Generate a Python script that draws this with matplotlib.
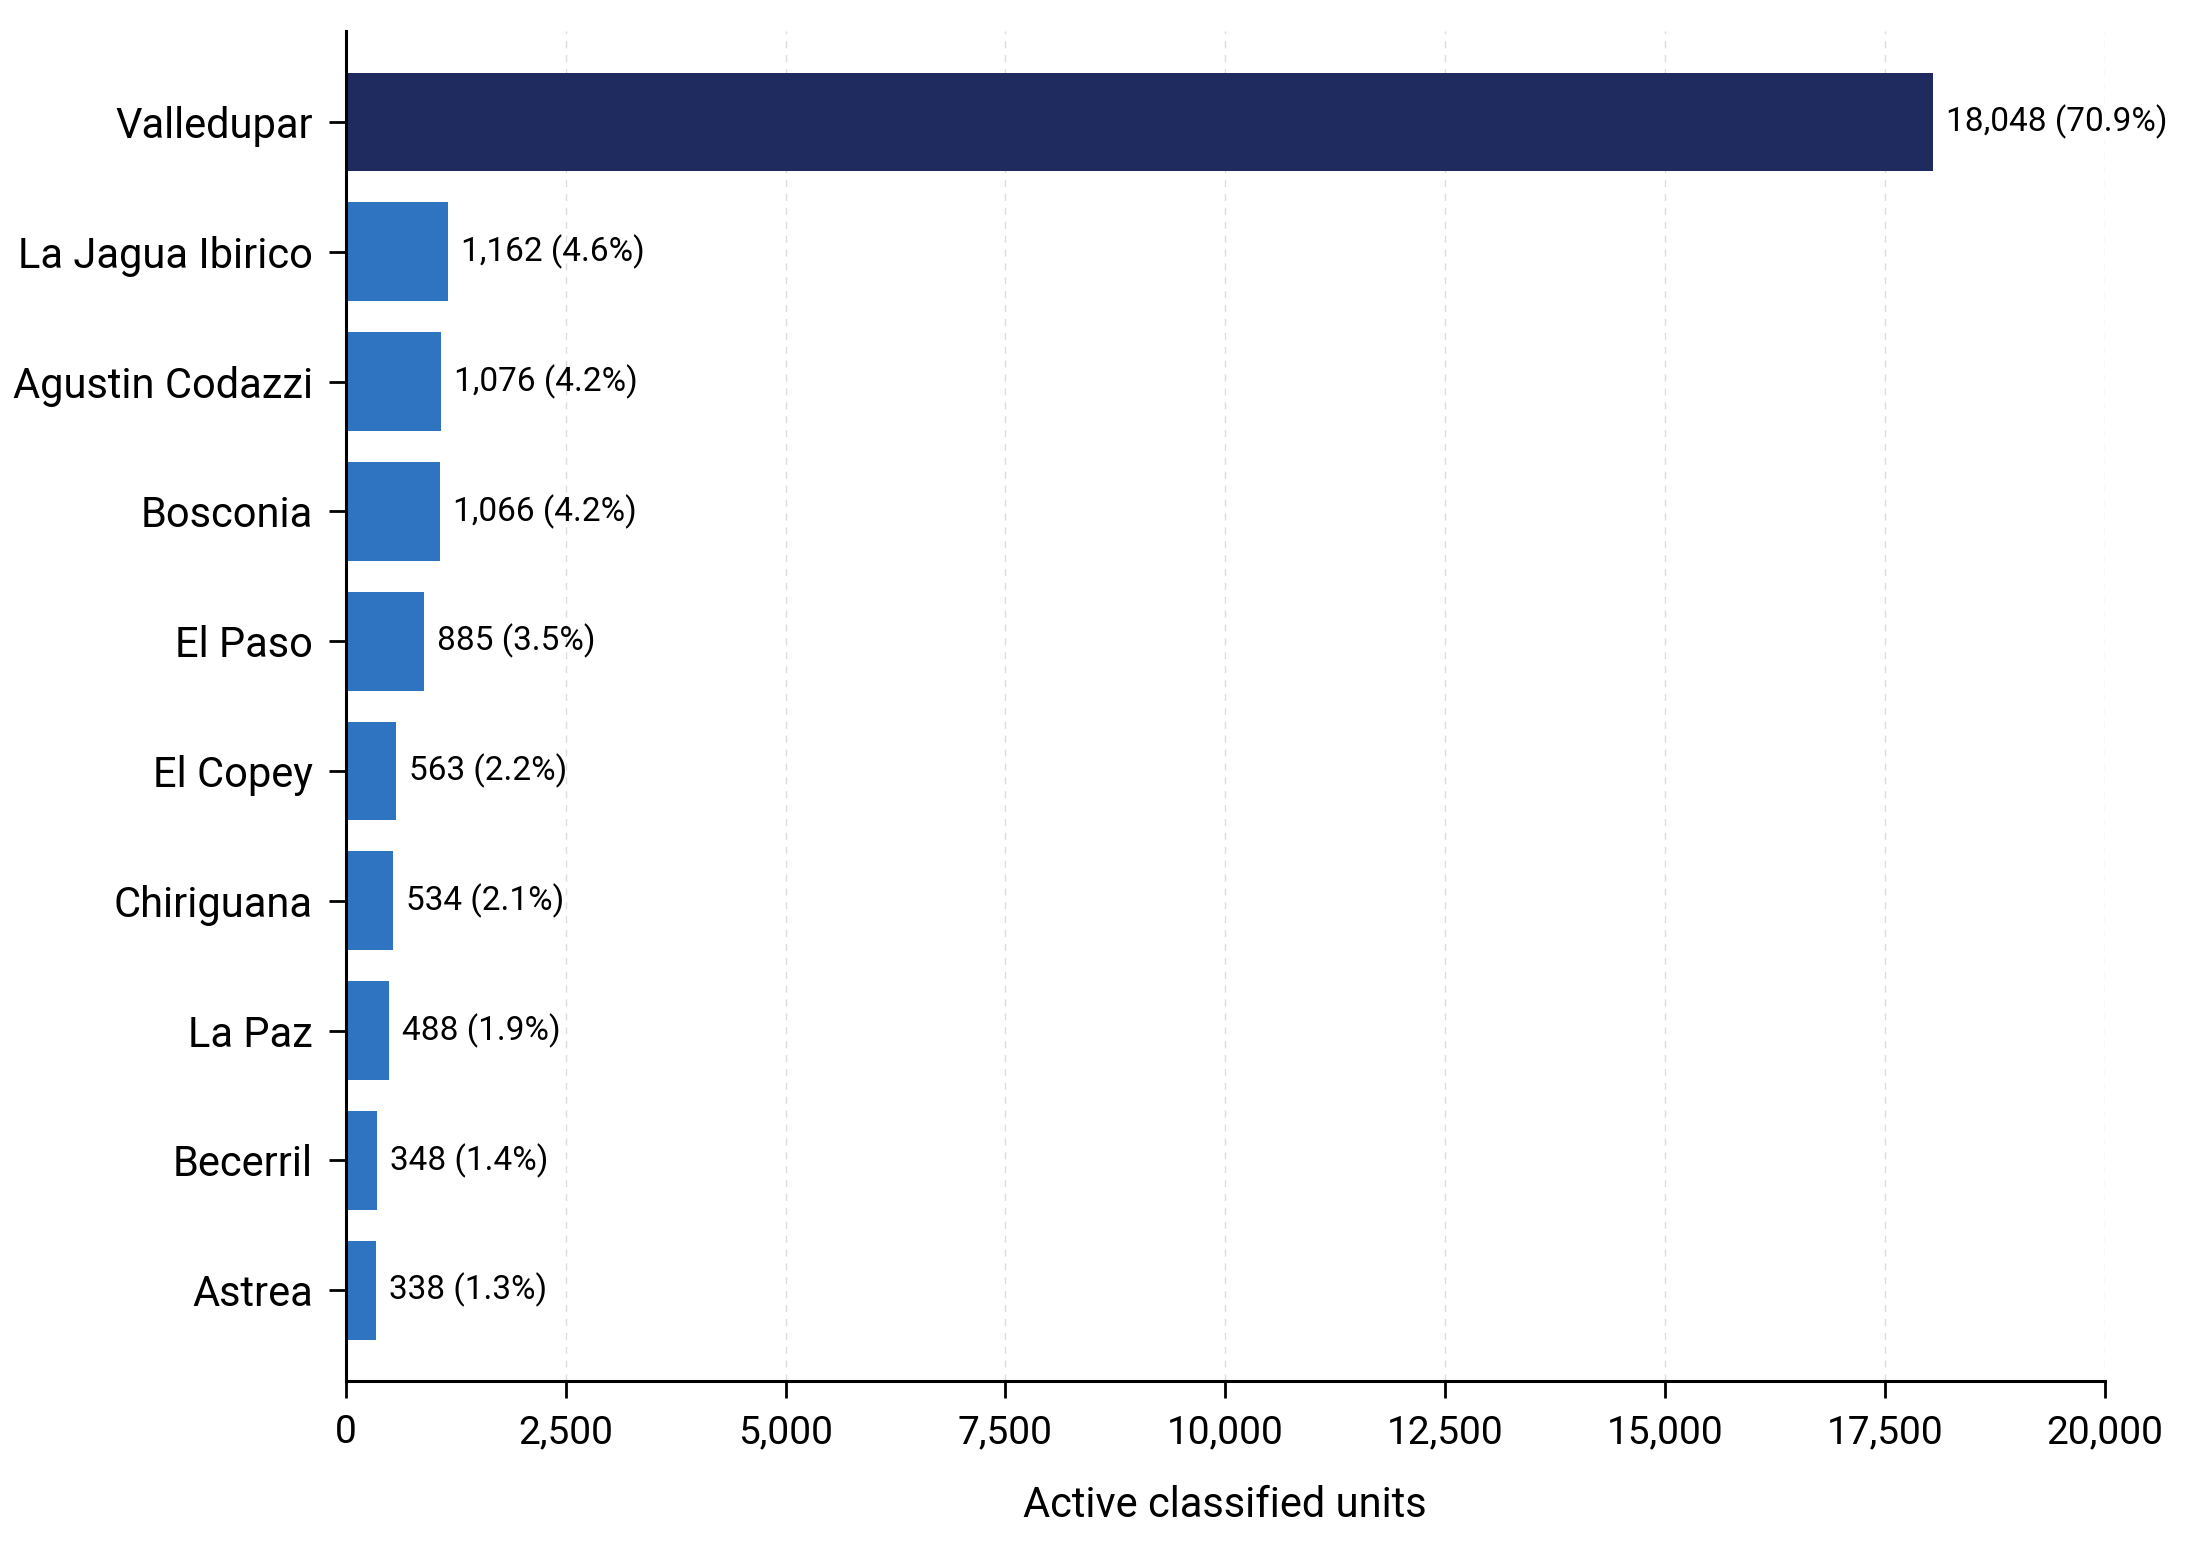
import matplotlib
matplotlib.use("Agg")
from matplotlib import pyplot as plt
from matplotlib.ticker import FuncFormatter

municipios = ["Valledupar", "La Jagua Ibirico", "Agustin Codazzi", "Bosconia", "El Paso",
              "El Copey", "Chiriguana", "La Paz", "Becerril", "Astrea"]
units = [18048, 1162, 1076, 1066, 885, 563, 534, 488, 348, 338]
shares = [70.9, 4.6, 4.2, 4.2, 3.5, 2.2, 2.1, 1.9, 1.4, 1.3]

plt.rcParams['font.family'] = ['Roboto', 'DejaVu Sans']

fig, ax = plt.subplots(figsize=(21.9, 15.57), dpi=100)
fig.subplots_adjust(left=0.158, right=0.961, top=0.98, bottom=0.113)

colors = ["#1f2a5e"] + ["#2f74c0"] * (len(units) - 1)
ypos = list(range(len(units)))
ax.barh(ypos, units, height=0.76, color=colors, zorder=2)

for y, v, p in zip(ypos, units, shares):
    ax.text(v + 150, y, f"{v:,} ({p}%)", va="center", ha="left", fontsize=24, zorder=3)

ax.set_yticks(ypos)
ax.set_yticklabels(municipios, fontsize=30)
ax.set_ylim(9.7, -0.7)
ax.set_xlim(0, 20000)
ax.set_xticks(range(0, 20001, 2500))
ax.xaxis.set_major_formatter(FuncFormatter(lambda x, _: f"{int(x):,}"))
ax.tick_params(axis="x", labelsize=28, length=12, width=2, pad=12)
ax.tick_params(axis="y", length=12, width=2, pad=12)
ax.set_xlabel("Active classified units", fontsize=30, labelpad=24)

ax.grid(axis="x", linestyle=(0, (5, 5)), color="#dcdcdc", linewidth=1, zorder=0)
for s in ["top", "right"]:
    ax.spines[s].set_visible(False)
for s in ["left", "bottom"]:
    ax.spines[s].set_linewidth(2.2)

fig.savefig("out.png", dpi=100, facecolor="white")
